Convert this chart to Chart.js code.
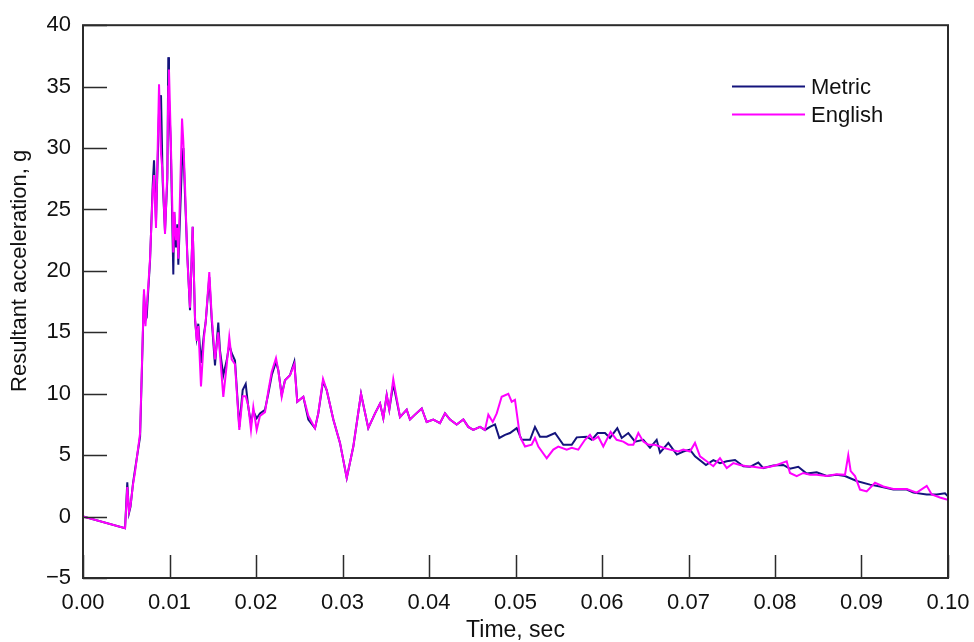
<!DOCTYPE html>
<html>
<head>
<meta charset="utf-8">
<script src="https://cdn.jsdelivr.net/npm/chart.js@4/dist/chart.umd.min.js"></script>
<style>
  html, body { margin: 0; padding: 0; background: #fff; }
  #wrap { width: 974px; height: 642px; }
</style>
</head>
<body>
<div id="wrap"><canvas id="chart" width="974" height="642"></canvas></div>
<script>
// Resultant acceleration vs time for the metric and English runs.
// Times in seconds, accelerations in g.

// Shared sample times up to ~0.0465 s, where the two traces still run together.
const earlyTime = [
  0, 0.00486, 0.00512, 0.00532, 0.00549, 0.00578, 0.00601, 0.0066, 0.00705, 0.00722,
  0.00736, 0.00755, 0.00775, 0.00806, 0.00821, 0.00844, 0.00879, 0.00902, 0.00921, 0.00948,
  0.00975, 0.00986, 0.00994, 0.01014, 0.01044, 0.01055, 0.01075, 0.0109, 0.01102, 0.01145,
  0.0116, 0.01179, 0.01206, 0.01237, 0.01268, 0.01295, 0.01314, 0.01333, 0.01364, 0.01399,
  0.01418, 0.0146, 0.01488, 0.01526, 0.01564, 0.01584, 0.01622, 0.01661, 0.01691, 0.01719,
  0.01757, 0.01807, 0.01846, 0.01881, 0.01911, 0.01942, 0.01969, 0.02008, 0.02046, 0.02104,
  0.02142, 0.02182, 0.02231, 0.02258, 0.02297, 0.02335, 0.02393, 0.02443, 0.02477, 0.02547,
  0.02605, 0.02682, 0.0272, 0.02775, 0.02817, 0.02894, 0.02971, 0.03049, 0.03125, 0.03214,
  0.03298, 0.03376, 0.03434, 0.03472, 0.03511, 0.03541, 0.03587, 0.03665, 0.03742, 0.0378,
  0.03838, 0.03916, 0.03973, 0.0405, 0.04127, 0.04185, 0.04243, 0.0432, 0.04397, 0.04454,
  0.04512, 0.0459, 0.04647
];

const metricEarlyG = [
  0, -0.95, 2.8, 0.3, 0.8, 2.7, 3.8, 6.5, 18.2, 16.0,
  16.2, 18.5, 20.8, 27.0, 29.0, 24.0, 33.0, 34.3, 27.3, 23.2,
  27.5, 37.4, 34.0, 30.5, 19.7, 24.8, 21.9, 23.8, 20.5, 29.0,
  30.0, 26.2, 21.3, 16.8, 23.6, 16.0, 14.6, 15.7, 12.5, 14.9,
  15.8, 19.5, 16.0, 12.3, 15.8, 13.5, 11.5, 12.7, 14.0, 13.3,
  12.7, 7.3, 10.3, 10.8, 8.9, 7.6, 8.6, 8.0, 8.4, 8.7,
  10.0, 11.5, 12.6, 11.9, 9.9, 11.1, 11.5, 12.6, 9.35, 9.75,
  7.9, 7.2, 8.4, 11.0, 10.3, 7.9, 6.0, 3.15, 5.7, 10.0,
  7.2, 8.4, 9.2, 8.0, 9.9, 8.7, 10.8, 8.1, 8.7, 7.9,
  8.3, 8.8, 7.7, 7.9, 7.6, 8.4, 7.9, 7.5, 7.9, 7.3,
  7.05, 7.3, 7.05
];

const englishEarlyG = [
  0, -0.95, 2.4, 0.4, 0.9, 2.6, 3.6, 6.8, 18.5, 15.5,
  17.0, 18.8, 21.0, 26.5, 27.8, 23.5, 35.2, 29.5, 28.0, 23.0,
  28.0, 35.0, 36.4, 31.0, 21.5, 24.8, 22.5, 23.5, 21.0, 32.4,
  30.5, 27.0, 21.0, 17.0, 23.6, 16.2, 14.3, 15.5, 10.6, 14.6,
  15.8, 19.9, 16.3, 12.8, 15.0, 13.2, 9.75, 12.3, 14.6, 12.8,
  12.4, 7.05, 9.8, 9.8, 9.0, 7.05, 8.9, 7.05, 8.2, 8.5,
  10.2, 11.8, 12.9, 11.9, 9.75, 11.1, 11.5, 12.4, 9.35, 9.75,
  8.2, 7.2, 8.4, 11.2, 10.3, 7.9, 6.0, 3.15, 5.7, 10.0,
  7.2, 8.4, 9.2, 8.0, 9.9, 8.7, 11.2, 8.1, 8.7, 7.9,
  8.3, 8.8, 7.7, 7.9, 7.6, 8.4, 7.9, 7.5, 7.9, 7.3,
  7.05, 7.3, 7.05
];

// After ~0.047 s the traces separate.
const metricLateTime = [
  0.04705, 0.04763, 0.04813, 0.04879, 0.04936, 0.05014, 0.05072, 0.05168, 0.05225, 0.05283,
  0.05361, 0.05457, 0.05553, 0.0565, 0.05708, 0.05823, 0.05881, 0.0595, 0.06035, 0.06092,
  0.06177, 0.06228, 0.06304, 0.06382, 0.06478, 0.06555, 0.06632, 0.06671, 0.06767, 0.06864,
  0.0694, 0.07017, 0.07075, 0.07202, 0.07287, 0.07364, 0.07442, 0.07538, 0.07634, 0.07711,
  0.07807, 0.07865, 0.0798, 0.08096, 0.08173, 0.08269, 0.08366, 0.08482, 0.08598, 0.08713,
  0.08809, 0.08944, 0.09098, 0.09214, 0.09368, 0.09523, 0.09599, 0.09754, 0.0987, 0.09965,
  0.1
];
const metricLateG = [
  7.3, 7.5, 6.4, 6.65, 6.8, 7.2, 6.25, 6.25, 7.3, 6.5,
  6.5, 6.8, 5.85, 5.85, 6.45, 6.5, 6.25, 6.8, 6.8, 6.4,
  7.2, 6.4, 6.8, 6.1, 6.25, 5.6, 6.25, 5.2, 6.0, 5.05,
  5.3, 5.45, 4.9, 4.2, 4.6, 4.35, 4.5, 4.6, 4.1, 4.05,
  4.4, 3.95, 4.15, 4.2, 3.9, 4.05, 3.5, 3.6, 3.3, 3.4,
  3.3, 2.9, 2.6, 2.45, 2.2, 2.2, 1.95, 1.8, 1.8, 1.9,
  1.65
];

const englishLateTime = [
  0.04686, 0.04737, 0.04783, 0.0484, 0.04917, 0.04956, 0.04994, 0.05052, 0.0511, 0.05187,
  0.05225, 0.05264, 0.05361, 0.05437, 0.05495, 0.05592, 0.0565, 0.05726, 0.05803, 0.05861,
  0.05899, 0.05957, 0.06015, 0.061, 0.06169, 0.06246, 0.06304, 0.06362, 0.0642, 0.06478,
  0.06535, 0.06613, 0.06709, 0.06786, 0.06882, 0.0694, 0.07017, 0.07075, 0.07133, 0.0721,
  0.07287, 0.07364, 0.07442, 0.07518, 0.07595, 0.07673, 0.07749, 0.07846, 0.07942, 0.0802,
  0.08077, 0.08135, 0.08173, 0.08251, 0.08327, 0.08405, 0.08482, 0.08598, 0.08713, 0.08809,
  0.08847, 0.08875, 0.08925, 0.08983, 0.0906, 0.09156, 0.09252, 0.09368, 0.09523, 0.09638,
  0.09754, 0.09812, 0.09907, 0.09985, 0.1
];
const englishLateG = [
  8.3, 7.7, 8.4, 9.75, 10.0, 9.35, 9.5, 6.5, 5.7, 5.85,
  6.4, 5.7, 4.75, 5.45, 5.7, 5.45, 5.6, 5.45, 6.25, 6.65,
  6.25, 6.5, 5.7, 6.9, 6.25, 6.1, 5.85, 5.85, 6.8, 6.1,
  5.85, 5.85, 5.6, 5.45, 5.3, 5.45, 5.3, 6.0, 4.9, 4.5,
  4.1, 4.75, 3.95, 4.35, 4.2, 4.1, 4.05, 3.95, 4.05, 4.2,
  4.35, 4.5, 3.55, 3.3, 3.55, 3.4, 3.4, 3.3, 3.45, 3.4,
  5.0, 3.7, 3.3, 2.2, 2.05, 2.75, 2.45, 2.25, 2.25, 1.95,
  2.5, 1.8, 1.55, 1.4, 1.4
];

const xTickValues = [0, 0.01, 0.02, 0.03, 0.04, 0.05, 0.06, 0.07, 0.08, 0.09, 0.1];

const METRIC_COLOR = '#14147c';
const ENGLISH_COLOR = '#ff00ff';
const AXIS_COLOR = '#2b2b2b';
const FONT = '"Liberation Sans", Arial, Helvetica, sans-serif';

const toPoints = (times, values) => times.map((t, i) => ({ x: t, y: values[i] }));

// Box, inward ticks, legend and the y title, painted over the datasets.
const framePlugin = {
  id: 'frame',
  afterDatasetsDraw(chart) {
    const { ctx, chartArea, scales } = chart;
    const { left, right, top, bottom } = chartArea;
    ctx.save();
    ctx.strokeStyle = AXIS_COLOR;
    ctx.lineWidth = 1.5;
    ctx.beginPath();
    scales.x.ticks.forEach((tick) => {
      const px = Math.round(scales.x.getPixelForValue(tick.value)) + 0.5;
      ctx.moveTo(px, bottom);
      ctx.lineTo(px, bottom - 23);
    });
    scales.y.ticks.forEach((tick) => {
      const py = Math.round(scales.y.getPixelForValue(tick.value)) + 0.5;
      ctx.moveTo(left, py);
      ctx.lineTo(left + 24, py);
    });
    ctx.stroke();

    ctx.lineWidth = 2;
    ctx.strokeRect(left, top, right - left, bottom - top);

    // legend
    const items = [
      { label: 'Metric', color: METRIC_COLOR, y: 86.5 },
      { label: 'English', color: ENGLISH_COLOR, y: 114.5 }
    ];
    ctx.font = '22px ' + FONT;
    ctx.textBaseline = 'middle';
    ctx.textAlign = 'left';
    items.forEach((item) => {
      ctx.strokeStyle = item.color;
      ctx.lineWidth = 2;
      ctx.beginPath();
      ctx.moveTo(732, item.y);
      ctx.lineTo(805, item.y);
      ctx.stroke();
      ctx.fillStyle = '#111';
      ctx.fillText(item.label, 811, item.y + 1);
    });

    // y title, centred on the 0..40 span like the original
    ctx.translate(20, (scales.y.getPixelForValue(0) + scales.y.getPixelForValue(40)) / 2);
    ctx.rotate(-Math.PI / 2);
    ctx.textAlign = 'center';
    ctx.fillStyle = '#111';
    ctx.fillText('Resultant acceleration, g', 0, 0);
    ctx.restore();
  }
};

new Chart(document.getElementById('chart'), {
  type: 'line',
  data: {
    datasets: [
      {
        label: 'Metric',
        data: toPoints(earlyTime.concat(metricLateTime), metricEarlyG.concat(metricLateG)),
        borderColor: METRIC_COLOR,
        borderWidth: 2,
        pointRadius: 0,
        tension: 0,
        order: 1
      },
      {
        label: 'English',
        data: toPoints(earlyTime.concat(englishLateTime), englishEarlyG.concat(englishLateG)),
        borderColor: ENGLISH_COLOR,
        borderWidth: 2,
        pointRadius: 0,
        tension: 0,
        order: 0
      }
    ]
  },
  options: {
    responsive: false,
    animation: false,
    layout: { padding: { top: 23, right: 26, left: 0, bottom: 0 } },
    plugins: { legend: { display: false }, tooltip: { enabled: false } },
    scales: {
      x: {
        type: 'linear',
        min: 0,
        max: 0.1,
        afterBuildTicks: (scale) => { scale.ticks = xTickValues.map((v) => ({ value: v })); },
        afterFit: (scale) => {
          scale.height = 64;
          // edge labels may overhang; keep the plot box where the original has it
          scale.paddingLeft = 0;
          scale.paddingRight = 0;
        },
        grid: { display: false, drawTicks: false },
        border: { display: false },
        ticks: {
          padding: 12,
          maxRotation: 0,
          autoSkip: false,
          color: '#111',
          font: { family: FONT, size: 22 },
          callback: (v) => Number(v).toFixed(2)
        },
        title: {
          display: true,
          text: 'Time, sec',
          color: '#111',
          padding: 0,
          font: { family: FONT, size: 23, lineHeight: 1 }
        }
      },
      y: {
        type: 'linear',
        min: -5,
        max: 40,
        afterFit: (scale) => { scale.width = 83; },
        grid: { display: false, drawTicks: false },
        border: { display: false },
        ticks: {
          stepSize: 5,
          padding: 12,
          color: '#111',
          font: { family: FONT, size: 22 },
          callback: (v) => (v < 0 ? '\u2212' + Math.abs(v) : String(v))
        }
      }
    }
  },
  plugins: [framePlugin]
});
</script>
</body>
</html>
